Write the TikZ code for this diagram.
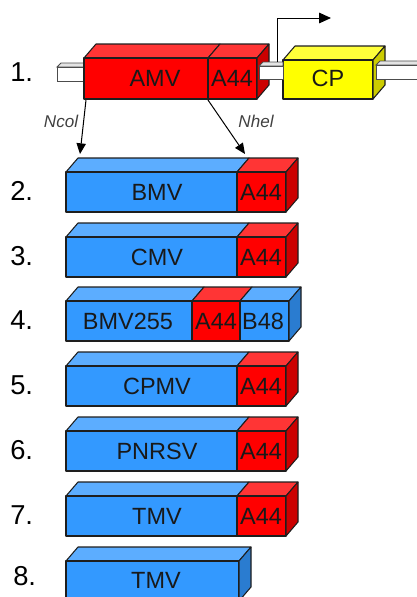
\documentclass[tikz,border=0pt]{standalone}
\usepackage{fontspec}
\setmainfont{Liberation Sans}
\usetikzlibrary{arrows.meta}
\definecolor{bluef}{HTML}{3399FF}
\definecolor{bluet}{HTML}{5CADFF}
\definecolor{blues}{HTML}{2A7CD0}
\definecolor{redf}{HTML}{FF0000}
\definecolor{redt}{HTML}{FF3535}
\definecolor{reds}{HTML}{CC0000}
\definecolor{yelf}{HTML}{FFFF00}
\definecolor{yelt}{HTML}{FFFF3A}
\definecolor{yels}{HTML}{CCCC00}
\definecolor{edge}{HTML}{1E1E1E}
\definecolor{tubetop}{HTML}{E4E4E4}
\newcommand\cubeseg[6]{%
  \filldraw[box,fill=#6] (#1,#3) -- ++(12,-14) -- (#2+12,#3-14) -- (#2,#3) -- cycle;
  \filldraw[box,fill=#5] (#1,#3) rectangle (#2,#4);}
\newcommand\cubeside[4]{%
  \filldraw[box,fill=#4] (#1,#2) -- ++(12,-14) -- ++(0,#3-#2) -- (#1,#3) -- cycle;}
\newcommand\tubeseg[4]{% x1,x2,ytop,ybot
  \filldraw[tube,fill=tubetop] (#1,#3) -- ++(4,-4) -- (#2,#3-4) -- (#2,#3) -- cycle;
  \filldraw[tube,fill=white] (#1,#3) rectangle (#2,#4);}
\tikzset{
  x=0.75pt, y=-0.75pt,
  box/.style={draw=edge, line width=0.8pt, line join=round},
  tube/.style={draw=black!70, line width=0.7pt},
  lbl/.style={inner sep=0pt, font=\fontsize{17.6}{20}\selectfont, text=black!90},
  num/.style={inner sep=0pt, anchor=west, font=\fontsize{20.5}{24}\selectfont},
  site/.style={inner sep=0pt, font=\fontsize{12.8}{15}\selectfont\itshape, text=black!75},
  arr/.style={draw=black, line width=0.75pt, -{Triangle[length=8pt,width=7pt]}},
  parr/.style={draw=black, line width=0.75pt, -{Triangle[length=9pt,width=8pt]}},
}
\begin{document}
\begin{tikzpicture}
\useasboundingbox (0,0) rectangle (417,597);
% row 1
\tubeseg{57}{84}{67}{81}
\cubeseg{84}{208}{58}{99}{redf}{redt}
\cubeseg{208}{257}{58}{99}{redf}{redt}
\cubeside{257}{58}{99}{reds}
\cubeseg{283}{373}{60}{99}{yelf}{yelt}
\cubeside{373}{60}{99}{yels}
\tubeseg{259}{283}{66}{79}
\tubeseg{376}{420}{65}{79}
\node[num] (n1) at (10,72) {1.};
\node[lbl] (amv) at (155,78) {AMV};
\node[lbl] (a1) at (232,78) {A44};
\node[lbl] (cp) at (328,78) {CP};
\coordinate (pstart) at (277,62);
\coordinate (pend) at (331,18);
\draw[parr] (pstart) |- (pend);
\coordinate (nc0) at (86,100);
\coordinate (nc1) at (80,154);
\coordinate (nh0) at (208,100);
\coordinate (nh1) at (245,154);
\draw[arr] (nc0) -- (nc1);
\draw[arr] (nh0) -- (nh1);
\node[site] (ncol) at (61,121) {Ncol};
\node[site] (nhel) at (256,121) {Nhel};
% rows with A44
\foreach \yt/\lab/\nm/\idx in {172/BMV/2./2, 237/CMV/3./3, 366/CPMV/5./5, 431/PNRSV/6./6, 496/TMV/7./7}{
  \cubeseg{66}{237}{\yt}{\yt+40}{bluef}{bluet}
  \cubeseg{237}{286}{\yt}{\yt+40}{redf}{redt}
  \cubeside{286}{\yt}{\yt+40}{reds}
  \node[lbl] (v\idx) at (157,\yt+20) {\lab};
  \node[lbl] (a\idx) at (261,\yt+20) {A44};
  \node[num] (n\idx) at (10,\yt+19) {\nm};
}
% row 4
\cubeseg{66}{192}{301}{341}{bluef}{bluet}
\cubeseg{192}{240}{301}{341}{redf}{redt}
\cubeseg{240}{289}{301}{341}{bluef}{bluet}
\cubeside{289}{301}{341}{blues}
\node[lbl] (v4) at (128,321) {BMV255};
\node[lbl] (a4) at (216,321) {A44};
\node[lbl] (b4) at (263,321) {B48};
\node[num] (n4) at (10,320) {4.};
% row 8
\cubeseg{66}{239}{561}{601}{bluef}{bluet}
\cubeside{239}{561}{601}{blues}
\node[lbl] (v8) at (156,580) {TMV};
\node[num] (n8) at (13,576) {8.};
\end{tikzpicture}
\end{document}
